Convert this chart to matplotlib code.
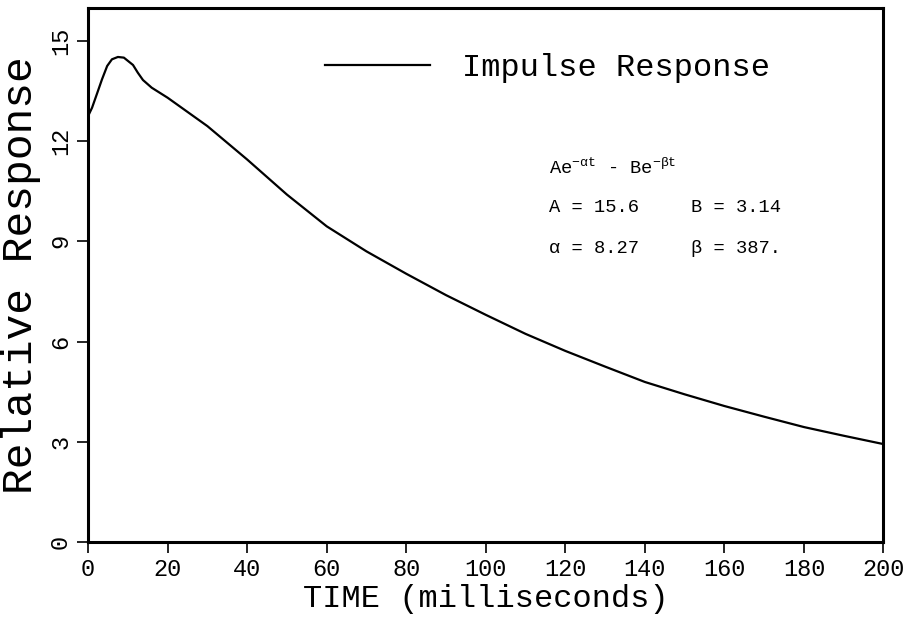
import matplotlib.pyplot as plt
import numpy as np

# time (ms) and relative response
t_ms = [0, 1, 2.3, 3.5, 4.8, 6, 7.5, 9, 11.3, 12.5, 13.8, 16, 20, 30, 40,
        50, 60, 70, 80, 90, 100, 110, 120, 130, 140, 150, 160, 170, 180,
        190, 200]
response = [12.75, 13.0, 13.44, 13.85, 14.25, 14.45, 14.52, 14.5, 14.28,
            14.05, 13.83, 13.6, 13.3, 12.45, 11.45, 10.4, 9.45, 8.7, 8.03,
            7.39, 6.8, 6.23, 5.72, 5.25, 4.79, 4.42, 4.07, 3.75, 3.44,
            3.18, 2.93]

x_ticks = [0, 20, 40, 60, 80, 100, 120, 140, 160, 180, 200]
y_ticks = [0, 3, 6, 9, 12, 15]

legend_label = "Impulse Response"
formula_lines = [
    (r"Ae$^{-\alpha t}$ - Be$^{-\beta t}$", ""),
    ("A = 15.6", "B = 3.14"),
    ("\u03b1 = 8.27", "\u03b2 = 387."),
]

plt.rcParams['font.family'] = ['Liberation Mono', 'DejaVu Sans']
plt.rcParams['mathtext.fontset'] = 'custom'
plt.rcParams['mathtext.rm'] = 'Liberation Mono'
plt.rcParams['mathtext.it'] = 'Liberation Mono'

fig = plt.figure(figsize=(9.08, 6.28), dpi=100)
ax = fig.add_axes([0.097, 0.137, 0.876, 0.851])

ax.plot(t_ms, response, color='black', lw=1.6, label=legend_label)

ax.set_xlim(0, 200)
ax.set_ylim(0, 16)
ax.set_xticks(x_ticks)
ax.set_yticks(y_ticks)
ax.tick_params(axis='both', direction='out', length=8, width=1.2,
               labelsize=17, color='black')
for lab in ax.get_yticklabels():
    lab.set_rotation(90)
    lab.set_va('center')
for sp in ax.spines.values():
    sp.set_linewidth(2.2)

ax.set_xlabel("TIME (milliseconds)", fontsize=23, labelpad=2)
ax.set_ylabel("Relative Response", fontsize=31, labelpad=6)

leg = ax.legend(loc='upper right', bbox_to_anchor=(0.894, 0.968),
                frameon=False, fontsize=23, handlelength=3.3,
                handletextpad=1.0)
for ln in leg.get_lines():
    ln.set_linewidth(1.6)

# formula block
y_pos = [0.70, 0.625, 0.55]
for (left, right), yy in zip(formula_lines, y_pos):
    ax.text(0.58, yy, left, transform=ax.transAxes, fontsize=13.5,
            va='center', ha='left')
    if right:
        ax.text(0.758, yy, right, transform=ax.transAxes, fontsize=13.5,
                va='center', ha='left')

fig.savefig("out.png", dpi=100)
